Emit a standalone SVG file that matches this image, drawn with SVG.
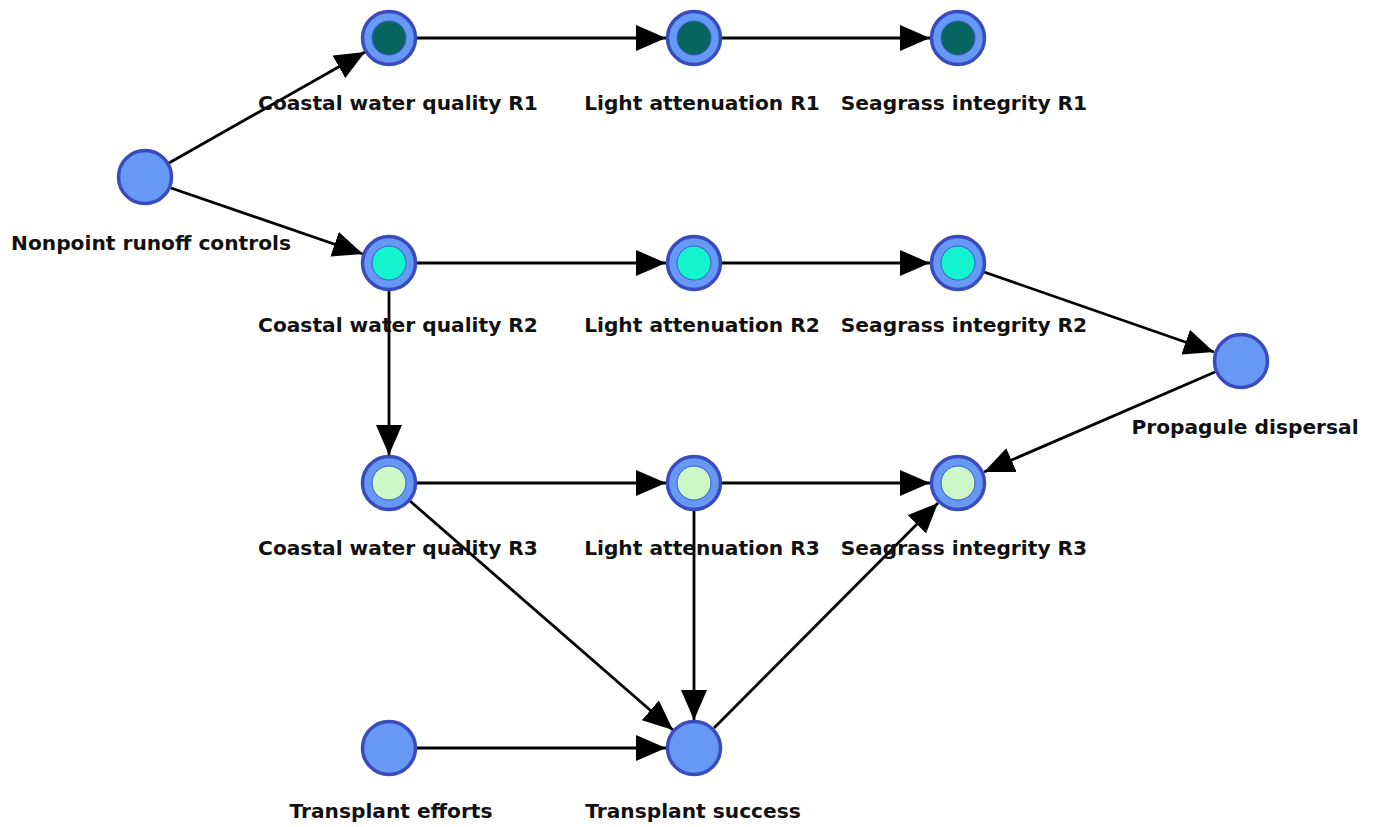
<svg xmlns="http://www.w3.org/2000/svg" width="1376" height="827" viewBox="0 0 1376 827">
  <style>
    .node { fill: #6699f5; stroke: #3a4bbf; stroke-width: 3.5; }
    .core-r1 { fill: #06665f; stroke: #3a57c8; stroke-width: 1; }
    .core-r2 { fill: #14f5cf; stroke: #3a57c8; stroke-width: 1; }
    .core-r3 { fill: #ccf8c8; stroke: #3a57c8; stroke-width: 1; }
    .label { font-family: "DejaVu Sans", Verdana, sans-serif; font-weight: bold; font-size: 20.2px; fill: #111; text-anchor: middle; }
    .edge { stroke: #000; stroke-width: 2.8; fill: none; marker-end: url(#arrow); }
  </style>
  <defs>
    <marker id="arrow" viewBox="0 0 30 26" refX="30" refY="13" markerWidth="30" markerHeight="26" markerUnits="userSpaceOnUse" orient="auto">
      <path d="M0,0 L30,13 L0,26 z" fill="#000"/>
    </marker>
  </defs>
  <rect width="1376" height="827" fill="#fff"/>

  <g id="connectors">
    <line class="edge" x1="169" y1="163" x2="365" y2="52"/>
    <line class="edge" x1="171" y1="188" x2="363" y2="254"/>
    <line class="edge" x1="417" y1="38" x2="666" y2="38"/>
    <line class="edge" x1="722" y1="38" x2="930" y2="38"/>
    <line class="edge" x1="417" y1="263" x2="666" y2="263"/>
    <line class="edge" x1="722" y1="263" x2="930" y2="263"/>
    <line class="edge" x1="389" y1="291" x2="389" y2="455"/>
    <line class="edge" x1="984" y1="272" x2="1214" y2="352"/>
    <line class="edge" x1="1215" y1="372" x2="984" y2="472"/>
    <line class="edge" x1="417" y1="483" x2="666" y2="483"/>
    <line class="edge" x1="722" y1="483" x2="930" y2="483"/>
    <line class="edge" x1="410" y1="501" x2="673" y2="730"/>
    <line class="edge" x1="694" y1="511" x2="694" y2="720"/>
    <line class="edge" x1="417" y1="748" x2="666" y2="748"/>
    <line class="edge" x1="714" y1="728" x2="938" y2="503"/>
  </g>

  <g id="nonpoint-runoff-controls">
    <circle class="node" cx="145" cy="177" r="26.5"/>
    <text class="label" x="151" y="250">Nonpoint runoff controls</text>
  </g>

  <g id="coastal-water-quality-r1">
    <circle class="node" cx="389" cy="38" r="26.5"/>
    <circle class="core-r1" cx="389" cy="38" r="17"/>
    <text class="label" x="398" y="110">Coastal water quality R1</text>
  </g>
  <g id="light-attenuation-r1">
    <circle class="node" cx="694" cy="38" r="26.5"/>
    <circle class="core-r1" cx="694" cy="38" r="17"/>
    <text class="label" x="702" y="110">Light attenuation R1</text>
  </g>
  <g id="seagrass-integrity-r1">
    <circle class="node" cx="958" cy="38" r="26.5"/>
    <circle class="core-r1" cx="958" cy="38" r="17"/>
    <text class="label" x="964" y="110">Seagrass integrity R1</text>
  </g>

  <g id="coastal-water-quality-r2">
    <circle class="node" cx="389" cy="263" r="26.5"/>
    <circle class="core-r2" cx="389" cy="263" r="17"/>
    <text class="label" x="398" y="332">Coastal water quality R2</text>
  </g>
  <g id="light-attenuation-r2">
    <circle class="node" cx="694" cy="263" r="26.5"/>
    <circle class="core-r2" cx="694" cy="263" r="17"/>
    <text class="label" x="702" y="332">Light attenuation R2</text>
  </g>
  <g id="seagrass-integrity-r2">
    <circle class="node" cx="958" cy="263" r="26.5"/>
    <circle class="core-r2" cx="958" cy="263" r="17"/>
    <text class="label" x="964" y="332">Seagrass integrity R2</text>
  </g>

  <g id="propagule-dispersal">
    <circle class="node" cx="1241" cy="361" r="26.5"/>
    <text class="label" x="1245" y="434">Propagule dispersal</text>
  </g>

  <g id="coastal-water-quality-r3">
    <circle class="node" cx="389" cy="483" r="26.5"/>
    <circle class="core-r3" cx="389" cy="483" r="17"/>
    <text class="label" x="398" y="555">Coastal water quality R3</text>
  </g>
  <g id="light-attenuation-r3">
    <circle class="node" cx="694" cy="483" r="26.5"/>
    <circle class="core-r3" cx="694" cy="483" r="17"/>
    <text class="label" x="702" y="555">Light attenuation R3</text>
  </g>
  <g id="seagrass-integrity-r3">
    <circle class="node" cx="958" cy="483" r="26.5"/>
    <circle class="core-r3" cx="958" cy="483" r="17"/>
    <text class="label" x="964" y="555">Seagrass integrity R3</text>
  </g>

  <g id="transplant-efforts">
    <circle class="node" cx="389" cy="748" r="26.5"/>
    <text class="label" x="391" y="818">Transplant efforts</text>
  </g>
  <g id="transplant-success">
    <circle class="node" cx="694" cy="748" r="26.5"/>
    <text class="label" x="693" y="818">Transplant success</text>
  </g>
</svg>
